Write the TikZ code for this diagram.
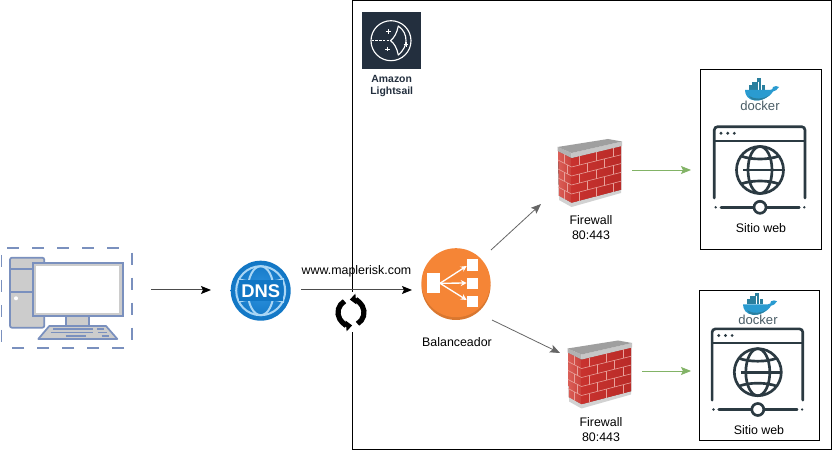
\documentclass[tikz,border=0pt]{standalone}
\usepackage{fontspec}
\setmainfont{Liberation Sans}
\usetikzlibrary{arrows.meta,calc}
\definecolor{pcline}{HTML}{7A90BE}
\definecolor{inkdark}{HTML}{2B3A42}
\definecolor{awsdark}{HTML}{232F3E}
\definecolor{dnsblue}{HTML}{1176C4}
\definecolor{dnsbluelight}{HTML}{2E93E0}
\definecolor{dnslight}{HTML}{A9D6F5}
\definecolor{lborange}{HTML}{F58536}
\definecolor{lbrim}{HTML}{D9772F}
\definecolor{linegrey}{HTML}{666666}
\definecolor{greenline}{HTML}{82B366}
\definecolor{mortar}{HTML}{E8A09A}
\definecolor{dockerblue}{HTML}{2A9BD0}
\definecolor{dockerdeep}{HTML}{2A7F9E}
\definecolor{dockertext}{HTML}{4A5D66}
\definecolor{brickleftA}{HTML}{DB5F58}
\definecolor{brickleftB}{HTML}{C9403A}
\definecolor{brickrightA}{HTML}{C8322E}
\definecolor{brickrightB}{HTML}{B92B28}
\tikzset{
  label12/.style={font=\fontsize{9.3}{11}\selectfont,inner sep=0pt,align=center,text=black},
  port/.style={inner sep=0pt,outer sep=0pt,draw=none,fill=none},
  arrowblack/.style={line width=.75pt,draw=black!70,-{Stealth[length=7.5pt,width=6pt,inset=1.5pt,color=black]}},
  arrowgrey/.style={line width=.6pt,draw=linegrey,-{Stealth[length=7.5pt,width=6pt,inset=1.5pt,color=linegrey]}},
  arrowgreen/.style={line width=.6pt,draw=greenline,-{Stealth[length=7.5pt,width=6pt,inset=1.5pt,color=greenline]}},
  sitebox/.style={draw=black,line width=.75pt,inner sep=0pt,fill=none},
  pcdash/.style={pcline,line width=1.4pt,dash pattern=on 9pt off 9.75pt},
  iconline/.style={draw=inkdark,line width=2pt,line cap=round},
  pics/firewall/.style={code={
    \fill[left color=brickleftA,right color=brickleftB] (5,13) -- (18.5,20) -- (18.5,65) -- (6,58) -- cycle;
    \fill[left color=brickrightA,right color=brickrightB] (18.5,20) -- (68,8) -- (68,52) -- (18.5,65) -- cycle;
    \fill[gray!35] (6,58) -- (18.5,65) -- (68,52) -- (68,55) -- (18.5,69) -- (6,62) -- cycle;
    \fill[gray!60] (4.5,9) -- (18.5,15) -- (18.5,20) -- (4.5,13) -- cycle;
    \fill[gray!45] (18.5,15) -- (69,3.5) -- (69,8) -- (18.5,20) -- cycle;
    \fill[gray!75] (4.5,9) -- (18.5,15) -- (69,3.5) -- (55,1) -- cycle;
    \foreach \i in {1,2,3,4}{
      \draw[mortar,line width=.45pt] (5,13+9*\i) -- (18.5,20+9*\i) -- (68,8+8.8*\i);
    }
    \foreach \i in {0,1,2,3,4}{
      \pgfmathsetmacro{\brickshift}{mod(\i,2)==0 ? 0 : 0.17}
      \foreach \t in {0.2,0.55,0.9}{
        \pgfmathsetmacro{\brickt}{\t+\brickshift-0.05}
        \pgfmathsetmacro{\xx}{18.5+49.5*\brickt}
        \pgfmathsetmacro{\ya}{20+9*\i-\brickt*(12+0.2*\i)}
        \pgfmathsetmacro{\yb}{\ya+9}
        \ifdim\brickt pt<1pt \draw[mortar,line width=.45pt] (\xx,\ya) -- (\xx,\yb);\fi
      }
      \pgfmathsetmacro{\lx}{mod(\i,2)==0 ? 11 : 14}
      \pgfmathsetmacro{\ly}{13+9*\i+(\lx-5)*0.52}
      \draw[mortar,line width=.45pt] (\lx,\ly) -- (\lx,\ly+9);
    }
  }},
  pics/dockerlogo/.style={code={
    \foreach \a in {14,17.2,20.4,23.6,26.8}{\fill[dockerdeep] (\a,9.8) rectangle +(2.8,5.2);}
    \foreach \a in {17.2,20.4,23.6}{\fill[dockerdeep] (\a,6.6) rectangle +(2.8,3);}
    \fill[dockerdeep] (22,3.4) rectangle +(4.4,3.2);
    \fill[dockerblue] (10,15) -- (35,15) .. controls (37,15) and (38,14) .. (38,12) .. controls (40,10.5) and (42,11) .. (44,12) .. controls (42.5,15) and (40,16) .. (38,16.5) .. controls (34,23) and (26,26) .. (20,25.5) .. controls (13,25) and (10,20) .. (10,15) -- cycle;
    \fill[dockerdeep] (14,21) .. controls (20,25) and (28,24) .. (34,20.5) .. controls (30,24) and (25,26) .. (20,25.5) .. controls (17,25.3) and (15,23.5) .. (14,21) -- cycle;
    \node[inner sep=0pt,font=\fontsize{9.8}{10}\selectfont,text=dockertext] at (25,30.7) {docker};
  }},
  pics/webicon/.style={code={
    % origin = globe centre
    \draw[iconline,rounded corners=2.5pt] (-45.7,28) -- (-45.7,-43.3) -- (45,-43.3) -- (45,28);
    \draw[iconline,line cap=butt,line width=1.6pt] (-45.7,-29) -- (45,-29);
    \foreach \a in {-39,-32.3,-25.7}{\fill[inkdark] (\a,-36.7) circle[radius=1.6];}
    \draw[iconline] (0,0) circle[radius=23.5];
    \draw[iconline] (0,0) ellipse[x radius=12,y radius=23.5];
    \draw[iconline,line cap=butt] (-17,0) -- (23.5,0);
    \draw[iconline,line cap=butt] (-19,-14) .. controls (-9,-10) and (9,-10) .. (19,-14);
    \draw[iconline,line cap=butt] (-19,14) .. controls (-9,10) and (9,10) .. (19,14);
    \draw[iconline] (-39,37.3) -- (39.3,37.3);
    \fill[inkdark] (-44.3,37.3) circle[radius=1.3];
    \fill[inkdark] (44.3,37.3) circle[radius=1.3];
    \draw[iconline,fill=white] (0,37.3) circle[radius=6];
  }}
}
\begin{document}
\begin{tikzpicture}[x=.75pt,y=-.75pt]
\useasboundingbox (0,0) rectangle (833,452);
\fill[white] (0,0) rectangle (833,452);

% outer Lightsail frame
\node[draw=black,line width=.75pt,inner sep=0pt,minimum width=359.25pt,minimum height=336.75pt] (frame) at (591.6,225.5) {};

% Lightsail icon
\node[fill=awsdark,inner sep=0pt,minimum width=43.8pt,minimum height=43.2pt] (lightsail) at (391.5,40.5) {};
\draw[white,line width=.85pt] (391,40.7) circle[radius=20];
\draw[white,line width=.8pt,dash pattern=on 1.8pt off 1pt] (371.7,40.7) -- (390,40.7);
\draw[white,line width=.85pt,line join=round] (398.3,26) .. controls (397,33) and (394,38) .. (390.5,40.7) .. controls (394,43) and (397,48) .. (398.3,55) .. controls (404,50) and (406,45) .. (406,40.7) .. controls (406,35) and (404,30) .. (398.3,26) -- cycle;
\foreach \p in {(388.3,31.7),(406,44.3),(387.7,49)}{
  \draw[white,line width=.6pt] \p ++(-2.4,0) -- ++(4.8,0) ++(-2.4,-2.4) -- ++(0,4.8);
}
\node[inner sep=0pt,align=center,text=awsdark,font=\bfseries\fontsize{7.8}{8.8}\selectfont] (lightsaillabel) at (391.7,85.8) {Amazon\\Lightsail};

% Computer
\node[port,minimum width=113.25pt,minimum height=60pt] (pc) at (75.5,290) {};
\draw[pcdash] (7.3,248.3) -- (131.7,248.3);
\draw[pcdash] (131.7,252.7) -- (131.7,345);
\draw[pcdash] (124,348.3) -- (8,348.3);
\draw[pcdash] (1.5,255) -- (1.5,345);
\fill[gray!40,draw=pcline,line width=1.3pt,rounded corners=1.5pt] (10,257.7) rectangle (44.3,327.7);
\draw[pcline,line width=1.3pt] (10,269) -- (44.3,269) (10,292.3) -- (44.3,292.3);
\fill[white] (16,298.3) circle[radius=2];
\fill[gray!40,draw=pcline,line width=1.3pt] (66,316) rectangle (89.3,326);
\fill[gray!40,draw=pcline,line width=1.3pt] (32.7,263.3) rectangle (122.7,316);
\fill[white] (35.7,266) rectangle (119.3,312.7);
\fill[gray!40,draw=pcline,line width=1.3pt,line join=round] (38.3,339) -- (117.3,339) -- (106,326) -- (49.3,326) -- cycle;
\draw[pcline,line width=1.2pt] (53,329) -- (93,329) (97,329) -- (104,329) (50.7,332.7) -- (93,332.7) (98,332.7) -- (107,332.7) (65.7,336) -- (85.7,336) (101.7,336) -- (109.3,336);

% DNS icon
\node[port,minimum width=67.5pt,minimum height=45pt] (dns) at (256,290) {};
\shade[outer color=dnsblue,inner color=dnsbluelight] (260.7,290.7) circle[radius=30];
\begin{scope}[dnslight,line width=1.5pt]
  \draw (260.7,290.7) circle[radius=24.5];
  \draw (260.7,290.7) ellipse[x radius=13,y radius=24.5];
  \draw (238,279) .. controls (250,283) and (272,283) .. (284,279);
  \draw (238,302) .. controls (250,298) and (272,298) .. (284,302);
\end{scope}
\fill[dnsblue] (239,280.5) rectangle (283,301);
\node[inner sep=0pt,text=white,font=\bfseries\fontsize{13.8}{14}\selectfont] (dnstext) at (260.7,290.7) {DNS};

% Load balancer icon
\node[port,minimum width=60pt,minimum height=45pt] (lb) at (452,290) {};
\fill[lbrim] (456,285.5) circle[radius=34.5];
\fill[lborange] (456,282.7) circle[radius=34.5];
\fill[white] (427.3,273.3) rectangle (440,292.7);
\fill[white] (467.3,259.3) rectangle (478.3,270.7);
\fill[white] (467.3,277.7) rectangle (478.3,289);
\fill[white] (467.3,295.7) rectangle (478.3,307);
\coordinate (lbhub) at (440,283.3);
\coordinate (lbA) at (466.7,266);
\coordinate (lbB) at (466.7,283);
\coordinate (lbC) at (466.7,300);
\foreach \e in {lbA,lbB,lbC}{
  \draw[white,line width=1pt,-{Stealth[length=4.5pt,width=4.5pt]}] (lbhub) -- (\e);
}

% Firewalls
\pic at (553,138) {firewall};
\pic at (563,339.5) {firewall};
\node[port,minimum width=68.25pt,minimum height=45pt] (fwone) at (586.5,170) {};
\node[port,minimum width=60.75pt,minimum height=45pt] (fwtwo) at (601.5,371) {};
\coordinate (lbup) at (491,250);
\coordinate (lbdown) at (492,320);
\coordinate (fwonein) at (541,204);
\coordinate (fwtwoin) at (560,353);
\coordinate (siteonein) at (691,170);
\coordinate (sitetwoin) at (691,371);

% Sites
\node[sitebox,minimum width=90.4pt,minimum height=135pt] (siteone) at (761.25,160) {};
\node[sitebox,minimum width=90.2pt,minimum height=112pt] (sitetwo) at (759.85,365.35) {};
\pic at (760,170) {webicon};
\pic at (757.8,372.2) {webicon};
\pic at (735,75) {dockerlogo};
\pic at (733,289.3) {dockerlogo};

% Sync icon interrupting the frame
\fill[white] (336,292) rectangle (366,332.5);
\draw[black,line width=3.9pt,-{Triangle[length=4.5pt,width=7.8pt]}] (357.5,323.76) arc[start angle=60,end angle=-95,radius=13];
\draw[black,line width=3.9pt,-{Triangle[length=4.5pt,width=7.8pt]}] (344.5,301.24) arc[start angle=240,end angle=85,radius=13];

% Connectors
\draw[arrowblack] (pc.east) -- (dns.west);
\draw[arrowblack] (dns.east) -- (lb.west);
\draw[arrowgrey] (lbup) -- (fwonein);
\draw[arrowgrey] (lbdown) -- (fwtwoin);
\draw[arrowgreen] (fwone.east) -- (siteonein);
\draw[arrowgreen] (fwtwo.east) -- (sitetwoin);

% Labels
\node[label12] (urllabel) at (356.5,271) {www.maplerisk.com};
\node[label12] (lblabel) at (457,342.5) {Balanceador};
\node[label12] (fwonelabel) at (591,227.5) {Firewall\\80:443};
\node[label12] (fwtwolabel) at (601,429.5) {Firewall\\80:443};
\node[label12] (siteonelabel) at (761,228.3) {Sitio web};
\node[label12] (sitetwolabel) at (759,430.3) {Sitio web};
\end{tikzpicture}
\end{document}
